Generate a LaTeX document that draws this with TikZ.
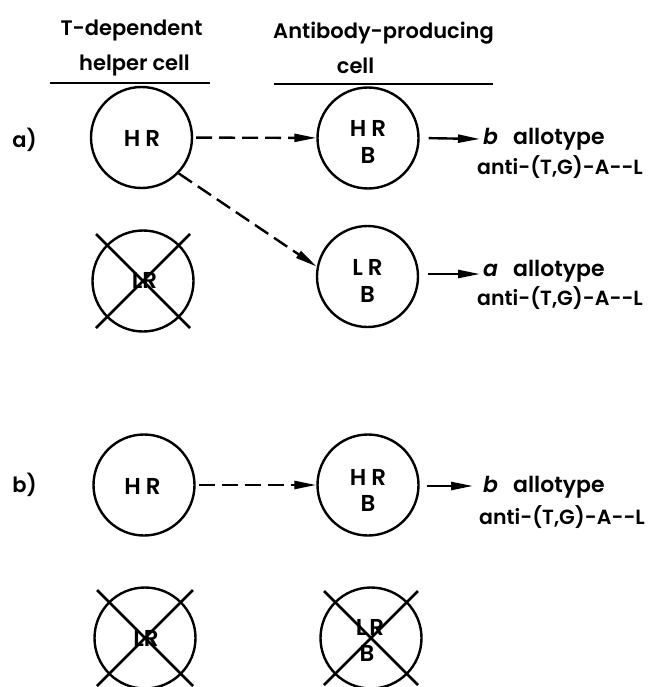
\documentclass[tikz,border=0pt]{standalone}
\usepackage{fontspec}
\setmainfont{Poppins}[UprightFont={Poppins SemiBold},ItalicFont={Poppins SemiBold Italic}]
\usetikzlibrary{arrows.meta,calc}
\begin{document}
\begin{tikzpicture}[x=1pt,y=-1pt,
  cell/.style={circle,draw,line width=2.4pt,minimum size=101pt,inner sep=0pt},
  txt/.style={inner sep=0pt,font=\fontsize{23}{23}\selectfont},
  head/.style={inner sep=0pt,font=\fontsize{21}{22}\selectfont},
  side/.style={inner sep=0pt,anchor=west,font=\fontsize{22}{23}\selectfont},
  sidesm/.style={inner sep=0pt,anchor=west,font=\fontsize{20.5}{21}\selectfont},
  rule/.style={line width=1.8pt},
  xline/.style={line width=2.6pt},
  dasharrow/.style={line width=2.4pt,dash pattern=on 16pt off 7pt,-{Triangle[length=22pt,width=8pt]}},
  solidarrow/.style={line width=2.4pt,-{Triangle[length=22pt,width=8pt]}}]
\useasboundingbox (0,0) rectangle (648,687);

% column headings
\node[head] (th1) at (131.5,31) {T-dependent};
\node[head] (th2) at (134.5,66) {helper cell};
\node[head] (ah1) at (383.5,33) {Antibody-producing};
\node[head] (ah2) at (355.5,66) {cell};
\draw[rule] (50,83) -- (210,83);
\draw[rule] (274,84) -- (493,84);

% row labels
\node[head] (ra) at (24.5,140) {a)};
\node[head] (rb) at (24.5,485) {b)};

% case a
\node[cell] (hra) at (141.5,137.5) {};
\node[txt] (hratxt) at (142,138) {H\kern5pt R};
\node[cell] (hrba) at (368,138) {};
\node[txt] (hrbat) at (368,128) {H\kern5pt R};
\node[txt] (hrbab) at (368,155) {B};
\node[cell] (lra) at (143,281) {};
\node[txt] (lratxt) at (144.5,280) {LR};
\draw[xline] ($(lra)+(-47,-47)$) -- ($(lra)+(47,47)$);
\draw[xline] ($(lra)+(47,-47)$) -- ($(lra)+(-47,47)$);
\node[cell] (lrba) at (367.5,276.5) {};
\node[txt] (lrbat) at (367.5,267) {L\kern5pt R};
\node[txt] (lrbab) at (367.5,294) {B};

\draw[dasharrow,shorten <=3pt] (hra) -- (hrba);
\draw[dasharrow] (hra.-44) -- (lrba.169);

\coordinate (ea1) at (480,139);
\draw[solidarrow,shorten <=9pt] (hrba.east) -- (ea1);
\node[side] (ba1) at (483,139) {{\itshape b}\kern15pt allotype};
\node[sidesm] (ba2) at (477,167) {anti-(T,G)-A-{}-L};

\coordinate (ea2) at (480,274);
\draw[solidarrow,shorten <=9pt] (lrba.east |- ea2) -- (ea2);
\node[side] (aa1) at (483,271) {{\itshape a}\kern15pt allotype};
\node[sidesm] (aa2) at (477,298) {anti-(T,G)-A-{}-L};

% case b
\node[cell] (hrb) at (144,485) {};
\node[txt] (hrbtxt) at (142.5,486) {H\kern5pt R};
\node[cell] (hrbb) at (368,485) {};
\node[txt] (hrbbt) at (368,477) {H\kern5pt R};
\node[txt] (hrbbb) at (368,503) {B};
\draw[dasharrow,shorten <=3pt] (hrb) -- (hrbb);

\coordinate (eb1) at (473,486);
\draw[solidarrow,shorten <=7pt] (hrbb.east |- eb1) -- (eb1);
\node[side] (bb1) at (483,487) {{\itshape b}\kern15pt allotype};
\node[sidesm] (bb2) at (479,517) {anti-(T,G)-A-{}-L};

\node[cell] (lrb) at (145,638) {};
\node[txt] (lrbtxt) at (146,638) {LR};
\draw[xline] ($(lrb)+(-48,-48)$) -- ($(lrb)+(48,48)$);
\draw[xline] ($(lrb)+(48,-48)$) -- ($(lrb)+(-48,48)$);
\node[cell] (lrbb) at (371,638) {};
\node[txt] (lrbbt) at (370,627) {L\kern3pt R};
\node[txt] (lrbbb) at (367,653) {B};
\draw[xline] ($(lrbb)+(-47,-47)$) -- ($(lrbb)+(47,47)$);
\draw[xline] ($(lrbb)+(47,-47)$) -- ($(lrbb)+(-47,47)$);
\end{tikzpicture}
\end{document}
